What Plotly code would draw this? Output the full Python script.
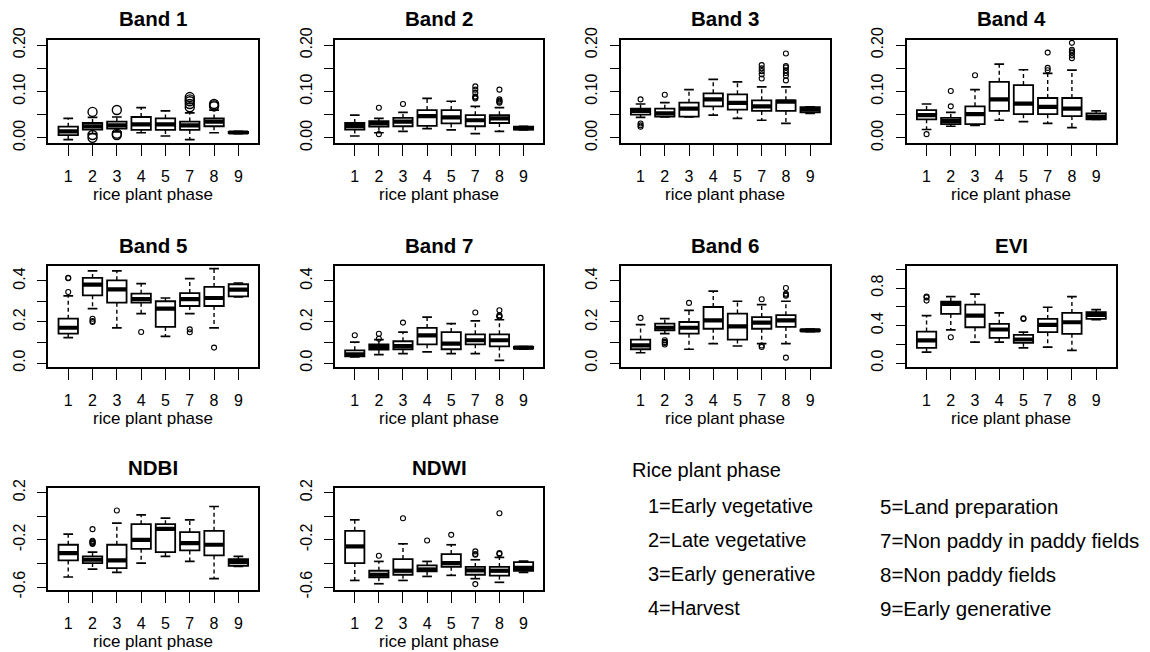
import plotly.graph_objects as go

PHASES = ["1", "2", "3", "4", "5", "7", "8", "9"]

# ---- Band 1 ----
B1_LOW = [-0.004, 0.009, 0.013, 0.011, 0.004, -0.004, 0.011, 0.009]
B1_Q1 = [0.006, 0.018, 0.020, 0.017, 0.017, 0.017, 0.025, 0.010]
B1_MED = [0.014, 0.025, 0.027, 0.029, 0.029, 0.027, 0.035, 0.0115]
B1_Q3 = [0.024, 0.032, 0.035, 0.045, 0.042, 0.035, 0.042, 0.013]
B1_HIGH = [0.042, 0.044, 0.045, 0.065, 0.058, 0.054, 0.060, 0.014]
B1_OUT = [[], [0.056, 0.006, 0.000], [0.060, 0.009, 0.006], [], [],
          [0.088, 0.083, 0.079, 0.073, 0.066], [0.073, 0.070, 0.068], []]

# ---- Band 2 ----
B2_LOW = [0.004, 0.011, 0.014, 0.020, 0.017, 0.009, 0.014, 0.017]
B2_Q1 = [0.018, 0.024, 0.025, 0.026, 0.031, 0.025, 0.032, 0.018]
B2_MED = [0.026, 0.031, 0.035, 0.047, 0.044, 0.038, 0.042, 0.021]
B2_Q3 = [0.032, 0.036, 0.043, 0.060, 0.060, 0.049, 0.049, 0.024]
B2_HIGH = [0.049, 0.042, 0.055, 0.085, 0.079, 0.068, 0.065, 0.025]
B2_OUT = [[], [0.065, 0.008], [0.073], [], [],
          [0.111, 0.104, 0.097, 0.089, 0.087, 0.085],
          [0.104, 0.083, 0.080, 0.078, 0.076], []]

# ---- Band 3 ----
B3_LOW = [0.044, 0.045, 0.045, 0.049, 0.042, 0.038, 0.031, 0.053]
B3_Q1 = [0.050, 0.046, 0.046, 0.068, 0.061, 0.058, 0.058, 0.055]
B3_MED = [0.058, 0.053, 0.063, 0.083, 0.0755, 0.068, 0.078, 0.061]
B3_Q3 = [0.063, 0.063, 0.076, 0.096, 0.094, 0.081, 0.081, 0.066]
B3_HIGH = [0.073, 0.076, 0.104, 0.126, 0.121, 0.110, 0.110, 0.067]
B3_OUT = [[0.083, 0.031, 0.027, 0.024], [0.093], [], [], [],
          [0.157, 0.150, 0.144, 0.137, 0.128],
          [0.182, 0.155, 0.152, 0.146, 0.140, 0.134, 0.124], []]

# ---- Band 4 ----
B4_LOW = [0.018, 0.025, 0.027, 0.038, 0.035, 0.031, 0.022, 0.040]
B4_Q1 = [0.040, 0.0295, 0.0295, 0.058, 0.051, 0.051, 0.047, 0.040]
B4_MED = [0.049, 0.036, 0.051, 0.083, 0.074, 0.067, 0.063, 0.045]
B4_Q3 = [0.060, 0.043, 0.068, 0.121, 0.114, 0.086, 0.086, 0.0525]
B4_HIGH = [0.073, 0.055, 0.104, 0.159, 0.147, 0.139, 0.146, 0.058]
B4_OUT = [[0.008], [0.068, 0.101], [0.135], [], [],
          [0.184, 0.151, 0.146],
          [0.205, 0.190, 0.187, 0.184, 0.178, 0.172], []]

# ---- Band 5 ----
B5_LOW = [0.124, 0.265, 0.171, 0.241, 0.130, 0.241, 0.171, 0.322]
B5_Q1 = [0.143, 0.330, 0.294, 0.294, 0.176, 0.278, 0.278, 0.325]
B5_MED = [0.172, 0.382, 0.359, 0.311, 0.265, 0.311, 0.317, 0.358]
B5_Q3 = [0.216, 0.415, 0.403, 0.338, 0.301, 0.341, 0.371, 0.384]
B5_HIGH = [0.327, 0.449, 0.449, 0.387, 0.317, 0.411, 0.460, 0.390]
B5_OUT = [[0.416, 0.413, 0.346], [0.216, 0.205, 0.200], [], [0.151], [],
          [0.164, 0.150], [0.075], []]

# ---- Band 7 ----
B7_LOW = [0.030, 0.041, 0.046, 0.054, 0.046, 0.046, 0.013, 0.068]
B7_Q1 = [0.033, 0.065, 0.067, 0.091, 0.067, 0.091, 0.081, 0.070]
B7_MED = [0.042, 0.078, 0.083, 0.135, 0.094, 0.111, 0.111, 0.075]
B7_Q3 = [0.062, 0.091, 0.106, 0.171, 0.151, 0.140, 0.140, 0.078]
B7_HIGH = [0.102, 0.114, 0.151, 0.224, 0.192, 0.205, 0.211, 0.080]
B7_OUT = [[0.135], [0.143, 0.118], [0.197], [], [], [0.246],
          [0.257, 0.232, 0.228, 0.224], []]

# ---- Band 6 ----
B6_LOW = [0.050, 0.143, 0.067, 0.094, 0.083, 0.094, 0.094, 0.153]
B6_Q1 = [0.067, 0.159, 0.143, 0.167, 0.114, 0.167, 0.176, 0.155]
B6_MED = [0.086, 0.172, 0.172, 0.208, 0.179, 0.197, 0.208, 0.159]
B6_Q3 = [0.114, 0.192, 0.200, 0.273, 0.241, 0.224, 0.233, 0.163]
B6_HIGH = [0.187, 0.216, 0.257, 0.350, 0.301, 0.285, 0.301, 0.165]
B6_OUT = [[0.220], [0.111, 0.103, 0.098, 0.090], [0.293], [], [],
          [0.311, 0.085, 0.078], [0.366, 0.338, 0.333, 0.328, 0.026], []]

# ---- EVI ----
EVI_LOW = [0.117, 0.354, 0.223, 0.223, 0.163, 0.170, 0.135, 0.464]
EVI_Q1 = [0.163, 0.524, 0.382, 0.269, 0.216, 0.329, 0.312, 0.471]
EVI_MED = [0.241, 0.630, 0.506, 0.358, 0.251, 0.407, 0.435, 0.513]
EVI_Q3 = [0.336, 0.655, 0.623, 0.418, 0.301, 0.471, 0.535, 0.542]
EVI_HIGH = [0.506, 0.708, 0.736, 0.535, 0.329, 0.595, 0.708, 0.570]
EVI_OUT = [[0.710, 0.700, 0.666], [0.276], [], [], [0.478, 0.470], [], [], []]

# ---- NDBI ----
NDBI_LOW = [-0.515, -0.448, -0.476, -0.397, -0.341, -0.383, -0.529, -0.425]
NDBI_Q1 = [-0.375, -0.397, -0.439, -0.276, -0.304, -0.290, -0.332, -0.420]
NDBI_MED = [-0.313, -0.369, -0.375, -0.200, -0.107, -0.228, -0.242, -0.389]
NDBI_Q3 = [-0.242, -0.341, -0.242, -0.068, -0.068, -0.135, -0.124, -0.363]
NDBI_HIGH = [-0.152, -0.304, -0.059, 0.011, -0.017, -0.031, 0.082, -0.341]
NDBI_OUT = [[], [-0.110, -0.208, -0.215, -0.222, -0.229, -0.236], [0.048],
            [], [], [], [], []]

# ---- NDWI ----
NDWI_LOW = [-0.544, -0.572, -0.544, -0.510, -0.501, -0.529, -0.560, -0.475]
NDWI_Q1 = [-0.397, -0.518, -0.496, -0.468, -0.428, -0.496, -0.504, -0.462]
NDWI_MED = [-0.256, -0.496, -0.462, -0.451, -0.397, -0.459, -0.462, -0.437]
NDWI_Q3 = [-0.124, -0.462, -0.363, -0.417, -0.321, -0.430, -0.430, -0.389]
NDWI_HIGH = [-0.031, -0.383, -0.234, -0.383, -0.242, -0.369, -0.349, -0.380]
NDWI_OUT = [[], [-0.335], [-0.017], [-0.206], [-0.158],
            [-0.298, -0.320, -0.326, -0.575], [0.025, -0.313, -0.320], []]

# ---- axis ticks ----
TICKS_BAND_A = [0.0, 0.05, 0.10, 0.15, 0.20]
LABELS_BAND_A = ["0.00", "", "0.10", "", "0.20"]
TICKS_BAND_B = [0.0, 0.1, 0.2, 0.3, 0.4]
LABELS_BAND_B = ["0.0", "", "0.2", "", "0.4"]
TICKS_EVI = [0.0, 0.2, 0.4, 0.6, 0.8, 1.0]
LABELS_EVI = ["0.0", "", "0.4", "", "0.8", ""]
TICKS_ND = [-0.6, -0.4, -0.2, 0.0, 0.2]
LABELS_ND = ["-0.6", "", "-0.2", "", "0.2"]

LEGEND_TITLE = "Rice plant phase"
LEGEND_LEFT = ["1=Early vegetative", "2=Late vegetative", "3=Early generative", "4=Harvest"]
LEGEND_RIGHT = ["5=Land preparation", "7=Non paddy in paddy fields", "8=Non paddy fields",
                "9=Early generative"]

# ---------------- layout geometry ----------------
W, H = 1150, 652
COL_X = [(48.3, 258.3), (335.0, 543.3), (620.7, 830.0), (906.7, 1116.0)]
ROW_Y = [(40.0, 143.3), (266.0, 367.0), (488.3, 590.0)]
FONT = "Liberation Sans, Arial, Helvetica, sans-serif"

panels = [
    ("Band 1", B1_LOW, B1_Q1, B1_MED, B1_Q3, B1_HIGH, B1_OUT, (-0.0118, 0.2112), TICKS_BAND_A, LABELS_BAND_A, 9),
    ("Band 2", B2_LOW, B2_Q1, B2_MED, B2_Q3, B2_HIGH, B2_OUT, (-0.0118, 0.2112), TICKS_BAND_A, LABELS_BAND_A, 5),
    ("Band 3", B3_LOW, B3_Q1, B3_MED, B3_Q3, B3_HIGH, B3_OUT, (-0.0118, 0.2112), TICKS_BAND_A, LABELS_BAND_A, 5),
    ("Band 4", B4_LOW, B4_Q1, B4_MED, B4_Q3, B4_HIGH, B4_OUT, (-0.0118, 0.2112), TICKS_BAND_A, LABELS_BAND_A, 5),
    ("Band 5", B5_LOW, B5_Q1, B5_MED, B5_Q3, B5_HIGH, B5_OUT, (-0.0195, 0.473), TICKS_BAND_B, LABELS_BAND_B, 5),
    ("Band 7", B7_LOW, B7_Q1, B7_MED, B7_Q3, B7_HIGH, B7_OUT, (-0.0195, 0.473), TICKS_BAND_B, LABELS_BAND_B, 5),
    ("Band 6", B6_LOW, B6_Q1, B6_MED, B6_Q3, B6_HIGH, B6_OUT, (-0.0195, 0.473), TICKS_BAND_B, LABELS_BAND_B, 5),
    ("EVI", EVI_LOW, EVI_Q1, EVI_MED, EVI_Q3, EVI_HIGH, EVI_OUT, (-0.042, 1.035), TICKS_EVI, LABELS_EVI, 5),
    ("NDBI", NDBI_LOW, NDBI_Q1, NDBI_MED, NDBI_Q3, NDBI_HIGH, NDBI_OUT, (-0.625, 0.236), TICKS_ND, LABELS_ND, 5),
    ("NDWI", NDWI_LOW, NDWI_Q1, NDWI_MED, NDWI_Q3, NDWI_HIGH, NDWI_OUT, (-0.625, 0.236), TICKS_ND, LABELS_ND, 5),
]

BOX_W = 0.8
CAP_HALF = 0.2

fig = go.Figure()
annotations = []
layout_axes = {}

for k, (title, low, q1, med, q3, high, outs, yr, tv, tt, osize) in enumerate(panels, start=1):
    row, col = divmod(k - 1, 4)
    xa = "x" if k == 1 else f"x{k}"
    ya = "y" if k == 1 else f"y{k}"
    pos = list(range(1, len(PHASES) + 1))

    # dashed whiskers
    wx, wy = [], []
    for p, a, b, c, d in zip(pos, low, q1, q3, high):
        wx += [p, p, None, p, p, None]
        wy += [c, d, None, b, a, None]
    fig.add_trace(go.Scatter(x=wx, y=wy, mode="lines", xaxis=xa, yaxis=ya,
                             line=dict(color="black", width=1.4, dash="4px,3px"),
                             showlegend=False, hoverinfo="skip"))
    # boxes
    fig.add_trace(go.Box(x=pos, q1=q1, median=med, q3=q3, lowerfence=q1, upperfence=q3,
                         width=BOX_W, whiskerwidth=0, fillcolor="white",
                         line=dict(color="black", width=1.8), boxpoints=False,
                         xaxis=xa, yaxis=ya, showlegend=False, hoverinfo="skip"))
    # staples
    sx, sy = [], []
    for p, a, d in zip(pos, low, high):
        sx += [p - CAP_HALF, p + CAP_HALF, None, p - CAP_HALF, p + CAP_HALF, None]
        sy += [d, d, None, a, a, None]
    fig.add_trace(go.Scatter(x=sx, y=sy, mode="lines", xaxis=xa, yaxis=ya,
                             line=dict(color="black", width=1.7),
                             showlegend=False, hoverinfo="skip"))
    # thick medians
    mx, my = [], []
    for p, m in zip(pos, med):
        mx += [p - BOX_W / 2, p + BOX_W / 2, None]
        my += [m, m, None]
    fig.add_trace(go.Scatter(x=mx, y=my, mode="lines", xaxis=xa, yaxis=ya,
                             line=dict(color="black", width=4.2),
                             showlegend=False, hoverinfo="skip"))
    # outliers
    ox, oy = [], []
    for p, vals in zip(pos, outs):
        for v in vals:
            ox.append(p)
            oy.append(v)
    fig.add_trace(go.Scatter(x=ox, y=oy, mode="markers", xaxis=xa, yaxis=ya,
                             marker=dict(symbol="circle-open", size=osize, color="black",
                                         line=dict(width=1.4 if osize > 6 else 1.1)),
                             showlegend=False, hoverinfo="skip"))

    x0, x1 = COL_X[col]
    y0, y1 = ROW_Y[row]
    xkey = "xaxis" if k == 1 else f"xaxis{k}"
    ykey = "yaxis" if k == 1 else f"yaxis{k}"
    layout_axes[xkey] = dict(
        domain=[x0 / W, x1 / W], anchor=ya, range=[0.18, 8.82], automargin=False,
        tickmode="array", tickvals=pos, ticktext=PHASES,
        ticks="outside", ticklen=11, tickwidth=1.4, tickcolor="black",
        showline=True, mirror=True, linecolor="black", linewidth=1.7,
        showgrid=False, zeroline=False, ticklabelstandoff=7,
        tickfont=dict(family=FONT, size=16, color="black"), fixedrange=True)
    layout_axes[ykey] = dict(
        domain=[1 - y1 / H, 1 - y0 / H], anchor=xa, range=list(yr), automargin=False,
        tickmode="array", tickvals=tv, ticktext=tt, tickangle=-90,
        ticks="outside", ticklen=9, tickwidth=1.4, tickcolor="black",
        showline=True, mirror=True, linecolor="black", linewidth=1.7,
        showgrid=False, zeroline=False, ticklabelstandoff=6,
        tickfont=dict(family=FONT, size=16, color="black"), fixedrange=True)

    annotations.append(dict(text=f"<b>{title}</b>", xref=f"{xa} domain", yref=f"{ya} domain",
                            x=0.5, y=1, yshift=21, xanchor="center", yanchor="middle",
                            showarrow=False, font=dict(family=FONT, size=20.5, color="black")))
    annotations.append(dict(text="rice plant phase", xref=f"{xa} domain", yref=f"{ya} domain",
                            x=0.5, y=0, yshift=-51, xanchor="center", yanchor="middle",
                            showarrow=False, font=dict(family=FONT, size=17, color="black")))

# text legend
annotations.append(dict(text=LEGEND_TITLE, xref="paper", yref="paper", x=630 / W, y=1 - 470 / H,
                        xanchor="left", yanchor="middle", showarrow=False,
                        font=dict(family=FONT, size=20, color="black")))
ROW_CENTERS = [506, 540, 574, 608]
for txt, yc in zip(LEGEND_LEFT, ROW_CENTERS):
    annotations.append(dict(text=txt, xref="paper", yref="paper", x=646 / W, y=1 - yc / H,
                            xanchor="left", yanchor="middle", showarrow=False,
                            font=dict(family=FONT, size=20, color="black")))
for txt, yc in zip(LEGEND_RIGHT, ROW_CENTERS):
    annotations.append(dict(text=txt, xref="paper", yref="paper", x=878 / W, y=1 - yc / H,
                            xanchor="left", yanchor="middle", showarrow=False,
                            font=dict(family=FONT, size=20.5, color="black")))

fig.update_layout(width=W, height=H, margin=dict(l=0, r=0, t=0, b=0, autoexpand=False),
                  paper_bgcolor="white", plot_bgcolor="white",
                  showlegend=False, annotations=annotations, **layout_axes)

fig.write_html("out.html", config={"displayModeBar": False},
               post_script="document.body.style.margin='0px';document.body.style.overflow='hidden';")
